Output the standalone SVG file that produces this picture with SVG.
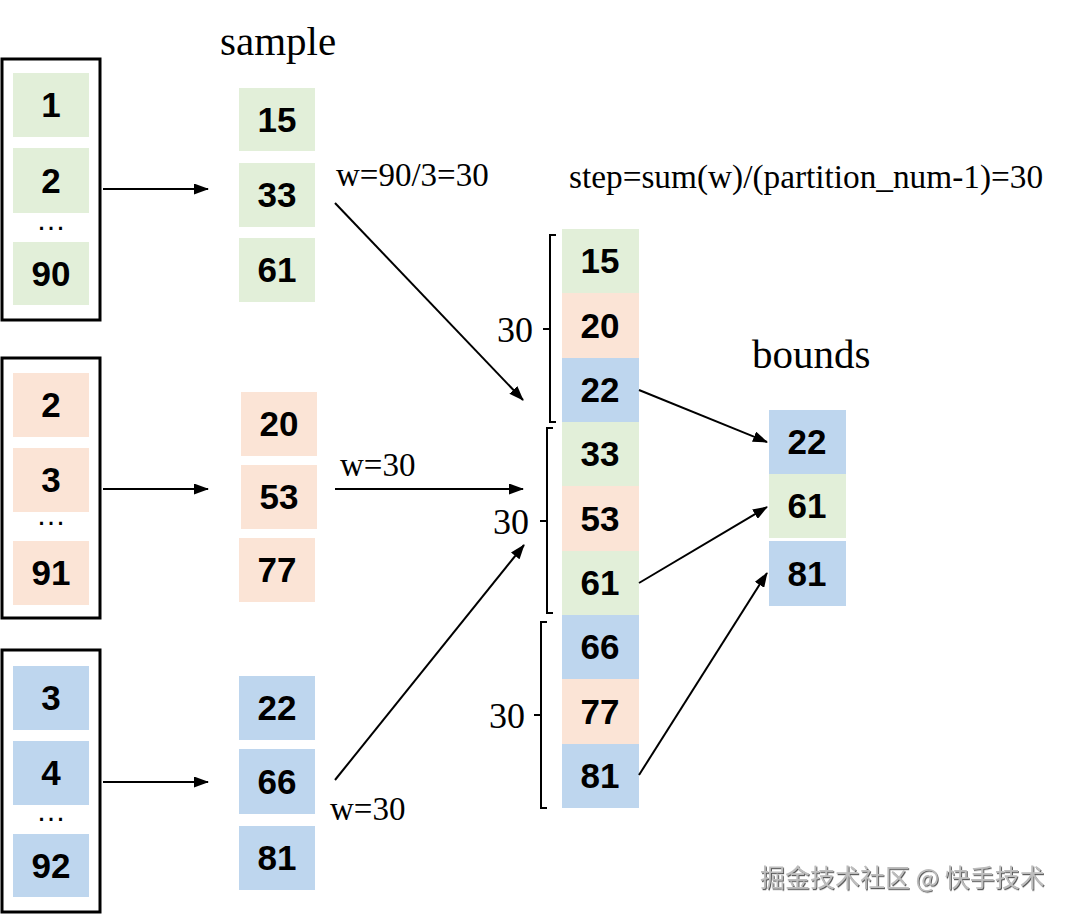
<svg xmlns="http://www.w3.org/2000/svg" width="1070" height="916" viewBox="0 0 1070 916">
<defs>
<marker id="ah" markerUnits="userSpaceOnUse" viewBox="0 0 15 11" markerWidth="15" markerHeight="11" refX="14" refY="5.5" orient="auto">
<path d="M0,0 L15,5.5 L0,11 z" fill="#000"/>
</marker>
<filter id="emb" x="-5%" y="-20%" width="110%" height="150%">
<feDropShadow dx="1" dy="1.2" stdDeviation="0.6" flood-color="#444" flood-opacity="0.9"/>
</filter>
</defs>
<style>
.g{fill:#e2efd9}
.p{fill:#fbe4d6}
.b{fill:#bed6ee}
.n{font-family:"Liberation Sans",Arial,sans-serif;font-weight:bold;font-size:35px;text-anchor:middle;fill:#000}
.d{font-family:"Liberation Sans",Arial,sans-serif;font-size:30px;text-anchor:middle;fill:#000}
.t{font-family:"Liberation Serif","Times New Roman",serif;fill:#000}
.box{fill:none;stroke:#000;stroke-width:3}
.c{stroke:#000;stroke-width:2;fill:none}
.br{stroke:#000;stroke-width:2;fill:none}
</style>
<rect width="1070" height="916" fill="#fff"/>

<text class="t" x="220" y="55" font-size="41">sample</text>
<text class="t" x="752" y="368" font-size="41">bounds</text>
<text class="t" x="336" y="186" font-size="33">w=90/3=30</text>
<text class="t" x="569" y="188" font-size="33.3">step=sum(w)/(partition_num-1)=30</text>
<text class="t" x="340" y="476" font-size="33">w=30</text>
<text class="t" x="330" y="820" font-size="33">w=30</text>

<g id="input1">
<rect class="box" x="2" y="59" width="98" height="261"/>
<rect class="g" x="13" y="73" width="76" height="64"/><text class="n" x="51" y="117">1</text>
<rect class="g" x="13" y="148" width="76" height="65"/><text class="n" x="51" y="193">2</text>
<text class="d" x="51" y="230">…</text>
<rect class="g" x="13" y="242" width="76" height="63"/><text class="n" x="51" y="286">90</text>
</g>
<g id="input2">
<rect class="box" x="2" y="358" width="98" height="260"/>
<rect class="p" x="13" y="373" width="76" height="64"/><text class="n" x="51" y="417">2</text>
<rect class="p" x="13" y="448" width="76" height="64"/><text class="n" x="51" y="492">3</text>
<text class="d" x="51" y="525">…</text>
<rect class="p" x="13" y="541" width="76" height="64"/><text class="n" x="51" y="585">91</text>
</g>
<g id="input3">
<rect class="box" x="2" y="650" width="98" height="262"/>
<rect class="b" x="13" y="666" width="76" height="64"/><text class="n" x="51" y="710">3</text>
<rect class="b" x="13" y="741" width="76" height="64"/><text class="n" x="51" y="785">4</text>
<text class="d" x="51" y="821">…</text>
<rect class="b" x="13" y="834" width="76" height="63"/><text class="n" x="51" y="878">92</text>
</g>

<g id="sample1">
<rect class="g" x="239" y="88" width="76" height="63"/><text class="n" x="277" y="132">15</text>
<rect class="g" x="239" y="163" width="76" height="64"/><text class="n" x="277" y="207">33</text>
<rect class="g" x="239" y="238" width="76" height="64"/><text class="n" x="277" y="282">61</text>
</g>
<g id="sample2">
<rect class="p" x="241" y="392" width="76" height="64"/><text class="n" x="279" y="436">20</text>
<rect class="p" x="241" y="465" width="76" height="64"/><text class="n" x="279" y="509">53</text>
<rect class="p" x="239" y="538" width="76" height="64"/><text class="n" x="277" y="582">77</text>
</g>
<g id="sample3">
<rect class="b" x="239" y="676" width="76" height="64"/><text class="n" x="277" y="720">22</text>
<rect class="b" x="239" y="749" width="76" height="65"/><text class="n" x="277" y="794">66</text>
<rect class="b" x="239" y="826" width="76" height="64"/><text class="n" x="277" y="870">81</text>
</g>

<g id="merged">
<rect class="g" x="562" y="229" width="77" height="64"/><text class="n" x="600" y="273">15</text>
<rect class="p" x="562" y="293" width="77" height="65"/><text class="n" x="600" y="338">20</text>
<rect class="b" x="562" y="358" width="77" height="64"/><text class="n" x="600" y="402">22</text>
<rect class="g" x="562" y="422" width="77" height="64"/><text class="n" x="600" y="466">33</text>
<rect class="p" x="562" y="486" width="77" height="65"/><text class="n" x="600" y="531">53</text>
<rect class="g" x="562" y="551" width="77" height="64"/><text class="n" x="600" y="595">61</text>
<rect class="b" x="562" y="615" width="77" height="64"/><text class="n" x="600" y="659">66</text>
<rect class="p" x="562" y="679" width="77" height="65"/><text class="n" x="600" y="724">77</text>
<rect class="b" x="562" y="744" width="77" height="64"/><text class="n" x="600" y="788">81</text>
</g>

<g id="brackets">
<path class="br" d="M556 235 H550 V422 H556 M550 329 H543"/>
<text class="t" x="533" y="342" font-size="36" text-anchor="end">30</text>
<path class="br" d="M553 428 H547 V613 H553 M547 521 H540"/>
<text class="t" x="529" y="534" font-size="36" text-anchor="end">30</text>
<path class="br" d="M547 622 H541 V808 H547 M541 715 H534"/>
<text class="t" x="525" y="728" font-size="36" text-anchor="end">30</text>
</g>

<g id="bounds">
<rect class="b" x="769" y="410" width="77" height="64"/><text class="n" x="807" y="454">22</text>
<rect class="g" x="769" y="474" width="77" height="64"/><text class="n" x="807" y="518">61</text>
<rect class="b" x="769" y="541" width="77" height="65"/><text class="n" x="807" y="586">81</text>
</g>

<g id="connectors">
<line class="c" x1="103" y1="189" x2="208" y2="189" marker-end="url(#ah)"/>
<line class="c" x1="103" y1="489" x2="208" y2="489" marker-end="url(#ah)"/>
<line class="c" x1="103" y1="782" x2="208" y2="782" marker-end="url(#ah)"/>
<line class="c" x1="335" y1="203" x2="523" y2="400" marker-end="url(#ah)"/>
<line class="c" x1="335" y1="489" x2="523" y2="489" marker-end="url(#ah)"/>
<line class="c" x1="335" y1="780" x2="524" y2="545" marker-end="url(#ah)"/>
<line class="c" x1="639" y1="390" x2="767" y2="442" marker-end="url(#ah)"/>
<line class="c" x1="639" y1="583" x2="767" y2="507" marker-end="url(#ah)"/>
<line class="c" x1="639" y1="775" x2="767" y2="573" marker-end="url(#ah)"/>
</g>

<text x="760" y="887" font-family="'Noto Sans CJK SC','Noto Sans',sans-serif" font-size="25" fill="#bdbdbd" filter="url(#emb)">掘金技术社区 @ 快手技术</text>
</svg>
